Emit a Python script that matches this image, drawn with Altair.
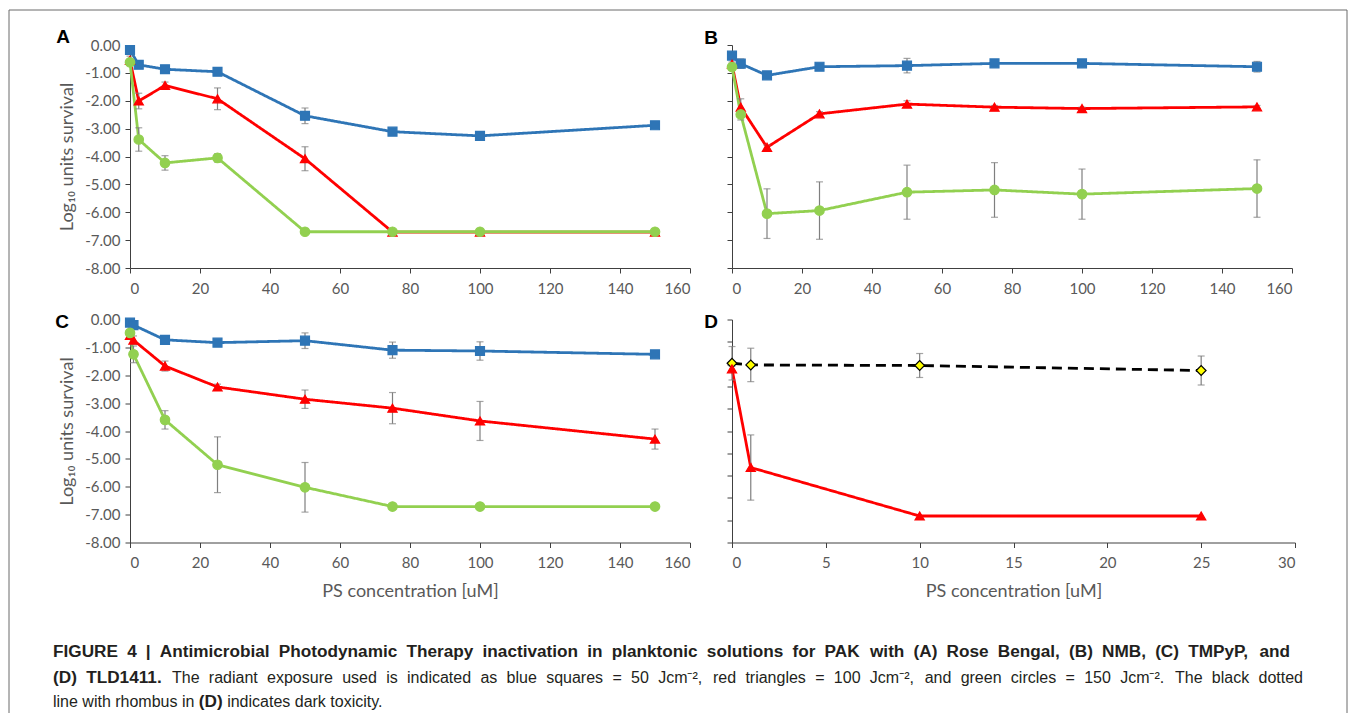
import altair as alt
import pandas as pd

# ---------------- data ----------------
X_AB = [0, 2.5, 10, 25, 50, 75, 100, 150]
X_C = [0, 1, 10, 25, 50, 75, 100, 150]
X_D = [0, 1, 10, 25]

A_BLUE = [-0.18, -0.71, -0.87, -0.96, -2.54, -3.11, -3.26, -2.88]
A_BLUE_ERR = [0.10, 0.08, 0.05, 0.06, 0.28, 0.05, 0.08, 0.05]
A_RED = [-0.55, -2.01, -1.45, -1.93, -4.08, -6.71, -6.71, -6.71]
A_RED_ERR = [0.15, 0.28, 0.12, 0.39, 0.43, 0.0, 0.0, 0.0]
A_GREEN = [-0.62, -3.39, -4.23, -4.05, -6.70, -6.70, -6.70, -6.70]
A_GREEN_ERR = [0.10, 0.42, 0.26, 0.15, 0.0, 0.0, 0.0, 0.0]

B_BLUE = [-0.38, -0.67, -1.09, -0.78, -0.74, -0.66, -0.66, -0.78]
B_BLUE_ERR = [0.08, 0.17, 0.05, 0.05, 0.26, 0.05, 0.08, 0.19]
B_RED = [-0.69, -2.23, -3.67, -2.47, -2.12, -2.23, -2.28, -2.22]
B_RED_ERR = [0.08, 0.30, 0.08, 0.08, 0.12, 0.06, 0.05, 0.05]
B_GREEN = [-0.79, -2.49, -6.05, -5.94, -5.28, -5.20, -5.35, -5.15]
B_GREEN_ERR = [0.08, 0.20, 0.89, 1.03, 0.97, 0.98, 0.90, 1.03]

C_BLUE = [-0.11, -0.20, -0.73, -0.83, -0.76, -1.10, -1.13, -1.25]
C_BLUE_ERR = [0.05, 0.10, 0.10, 0.05, 0.28, 0.29, 0.33, 0.05]
C_RED = [-0.57, -0.74, -1.67, -2.42, -2.86, -3.18, -3.64, -4.29]
C_RED_ERR = [0.10, 0.15, 0.18, 0.10, 0.33, 0.56, 0.70, 0.36]
C_GREEN = [-0.48, -1.25, -3.60, -5.21, -6.02, -6.71, -6.71, -6.71]
C_GREEN_ERR = [0.10, 0.30, 0.33, 1.00, 0.89, 0.0, 0.0, 0.0]

D_DARK = [-1.57, -1.63, -1.65, -1.83]
D_DARK_ERR = [0.60, 0.60, 0.43, 0.52]
D_RED = [-1.77, -5.31, -7.05, -7.05]
D_RED_ERR = [0.10, 1.17, 0.0, 0.0]

SERIES = ["50 Jcm-2", "100 Jcm-2", "150 Jcm-2", "Dark toxicity"]
Y_TICKS = [0, -1, -2, -3, -4, -5, -6, -7, -8]
Y_TICKS_D = [0, -0.8, -1.6, -2.4, -3.2, -4.0, -4.8, -5.6, -6.4, -7.2, -8.0]
PANEL_LETTERS = ["A", "B", "C", "D"]
X_TITLE = "PS concentration [uM]"
Y_TITLE = "Log\u2081\u2080 units survival"

# caption: (text, bold) runs per line
CAPTION_LINE1 = [("FIGURE 4 | Antimicrobial Photodynamic Therapy inactivation in planktonic "
                  "solutions for PAK with (A) Rose Bengal, (B) NMB, (C) TMPyP, and", True)]
CAPTION_LINE2 = [("(D) TLD1411.", True),
                 ("The radiant exposure used is indicated as blue squares = 50 Jcm\u207b\u00b2, "
                  "red triangles = 100 Jcm\u207b\u00b2, and green circles = 150 Jcm\u207b\u00b2. "
                  "The black dotted", False)]
CAPTION_LINE3 = [("line with rhombus in", False), ("(D)", True), ("indicates dark toxicity.", False)]

# ---------------- styles ----------------
LINE_COLORS = ["#2E75B6", "#FF0000", "#92D050", "#000000"]
FILL_COLORS = ["#2E75B6", "#FF0000", "#92D050", "#FFFF00"]
EDGE_COLORS = ["#2E75B6", "#FF0000", "#92D050", "#000000"]
SHAPES = ["square", "triangle-up", "circle", "diamond"]
SIZES = [80, 95, 50, 110]
DASHES = [[1, 0], [1, 0], [1, 0], [10, 6]]
FONT = "Lato"
CAPFONT = "Liberation Sans"
BOLD_SIZE = 17.2
REG_SIZE = 16.0
AXC = "#404040"
TXT = "#595959"
ERRC = "#7F7F7F"
CAPC = "#231F20"
PLOT_H = 223

# Arial / Liberation Sans advance widths (1/1000 em) for caption layout
REG_W, BOLD_W = {}, {}
for chars, w in [("ijl", 222), (" ft.,:;I!", 278), ("r()-[]\u00b2", 333), ("\u207b", 400),
                 ("cksvxyzJ", 500), ("abdeghnopquL0123456789", 556), ("=+", 584), ("FTZ", 611),
                 ("ABEKPSVXY&", 667), ("CDHNRUw", 722), ("GOQ", 778), ("mM", 833), ("W", 944), ("|", 260)]:
    for ch in chars:
        REG_W[ch] = w
for chars, w in [(" ijl.,:;I", 278), ("ft()-!\u00b2", 333), ("r", 389), ("z", 500),
                 ("acekvsxyJ0123456789", 556), ("bdghnopquLFTZ", 611), ("EPSVXY", 667),
                 ("ABCDHKNRU", 722), ("GOQw", 778), ("M", 833), ("m", 889), ("W", 944), ("|", 280)]:
    for ch in chars:
        BOLD_W[ch] = w


def text_w(word, bold):
    tab, size = (BOLD_W, BOLD_SIZE) if bold else (REG_W, REG_SIZE)
    return sum(tab.get(ch, 556) for ch in word) * size / 1000.0


def layout_line(runs, x0, y, right=None):
    words = [(w, b) for txt, b in runs for w in txt.split(" ")]
    widths = [text_w(w, b) for w, b in words]
    if right is None:
        gap = 0.278 * REG_SIZE
    else:
        gap = (right - x0 - sum(widths)) / (len(words) - 1)
    rows, x = [], x0
    for (w, b), wd in zip(words, widths):
        rows.append(dict(word=w, bold=b, px=x, py=y))
        x += wd + gap
    return rows


def build_df(x, groups):
    rows = []
    for name, vals, errs in groups:
        for xi, v, e in zip(x, vals, errs):
            rows.append(dict(x=xi, y=v, err=e, lo=v - e, hi=v + e, series=name))
    return pd.DataFrame(rows)


def panel(df, xmax, xstep, yticks, show_ylabels, xtitle, ytitle, letter, ldx, ldy, width, extra=()):
    xs = alt.Scale(domain=[0, xmax], nice=False)
    ys = alt.Scale(domain=[-8, 0], nice=False)
    xa = alt.Axis(values=list(range(0, xmax + 1, xstep)), grid=False, tickSize=5,
                  domainColor=AXC, tickColor=AXC, labelColor=TXT, labelFont=FONT,
                  labelFontSize=15, labelPadding=8, titleFont=FONT, titleFontSize=18,
                  titleColor=TXT, titleFontWeight="normal", titlePadding=12)
    ya = alt.Axis(values=yticks, grid=False, tickSize=5, labels=show_ylabels,
                  labelExpr="replace(format(datum.value, '.2f'), '\u2212', '-')",
                  domainColor=AXC, tickColor=AXC, labelColor=TXT, labelFont=FONT,
                  labelFontSize=15, labelPadding=5, titleFont=FONT, titleFontSize=18,
                  titleColor=TXT, titleFontWeight="normal", titlePadding=8)
    X = alt.X("x:Q", scale=xs, axis=xa, title=xtitle)
    Y = alt.Y("y:Q", scale=ys, axis=ya, title=ytitle)

    line = alt.Chart(df).mark_line(strokeWidth=2.8).encode(
        x=X, y=Y,
        color=alt.Color("series:N", scale=alt.Scale(domain=SERIES, range=LINE_COLORS), legend=None),
        strokeDash=alt.StrokeDash("series:N", scale=alt.Scale(domain=SERIES, range=DASHES), legend=None),
    )
    edf = df[df["err"] > 0]
    rule = alt.Chart(edf).mark_rule(color=ERRC, strokeWidth=1.2).encode(
        x=X, y=alt.Y("lo:Q", scale=ys, axis=ya, title=ytitle), y2="hi:Q")
    cap_lo = alt.Chart(edf).mark_tick(orient="horizontal", size=7, thickness=1.2, color=ERRC).encode(
        x=X, y=alt.Y("lo:Q", scale=ys, axis=ya, title=ytitle))
    cap_hi = alt.Chart(edf).mark_tick(orient="horizontal", size=7, thickness=1.2, color=ERRC).encode(
        x=X, y=alt.Y("hi:Q", scale=ys, axis=ya, title=ytitle))
    pts = alt.Chart(df).mark_point(filled=True, opacity=1, strokeWidth=1.2).encode(
        x=X, y=Y,
        shape=alt.Shape("series:N", scale=alt.Scale(domain=SERIES, range=SHAPES), legend=None),
        fill=alt.Fill("series:N", scale=alt.Scale(domain=SERIES, range=FILL_COLORS), legend=None),
        stroke=alt.Stroke("series:N", scale=alt.Scale(domain=SERIES, range=EDGE_COLORS), legend=None),
        size=alt.Size("series:N", scale=alt.Scale(domain=SERIES, range=SIZES), legend=None),
    )
    lab = alt.Chart(pd.DataFrame({"t": [letter]})).mark_text(
        font="Liberation Sans", fontSize=19, fontWeight="bold", color="#000000",
        align="center", baseline="middle").encode(text="t:N", x=alt.value(ldx), y=alt.value(ldy))
    return alt.layer(line, rule, cap_lo, cap_hi, pts, lab, *extra).properties(width=width, height=PLOT_H)


dfA = build_df(X_AB, [(SERIES[0], A_BLUE, A_BLUE_ERR), (SERIES[1], A_RED, A_RED_ERR), (SERIES[2], A_GREEN, A_GREEN_ERR)])
dfB = build_df(X_AB, [(SERIES[0], B_BLUE, B_BLUE_ERR), (SERIES[1], B_RED, B_RED_ERR), (SERIES[2], B_GREEN, B_GREEN_ERR)])
dfC = build_df(X_C, [(SERIES[0], C_BLUE, C_BLUE_ERR), (SERIES[1], C_RED, C_RED_ERR), (SERIES[2], C_GREEN, C_GREEN_ERR)])
dfD = build_df(X_D, [(SERIES[3], D_DARK, D_DARK_ERR), (SERIES[1], D_RED, D_RED_ERR)])

# ---------------- caption and frame (pixel offsets relative to panel C's plot origin) ----------------
OX, OY = 129, 318.5
one = pd.DataFrame({"k": [0]})
frame_c = "#6b6b6b"
FT, FB, FL, FR = 9 - OY, 712 - OY, 8 - OX, 1346 - OX
frame = [
    alt.Chart(one).mark_rule(color=frame_c, strokeWidth=1).encode(
        x=alt.value(FL), x2=alt.value(FR), y=alt.value(FT)),
    alt.Chart(one).mark_rule(color=frame_c, strokeWidth=1).encode(
        x=alt.value(FL), y=alt.value(FT), y2=alt.value(FB)),
    alt.Chart(one).mark_rule(color=frame_c, strokeWidth=1).encode(
        x=alt.value(FR), y=alt.value(FT), y2=alt.value(FB)),
]
cap_rows = (layout_line(CAPTION_LINE1, 52 - OX, 650.5 - OY, right=1289 - OX)
            + layout_line(CAPTION_LINE2, 52 - OX, 676.5 - OY, right=1302 - OX)
            + layout_line(CAPTION_LINE3, 52 - OX, 700.5 - OY))
cap_df = pd.DataFrame(cap_rows)
caption = []
for is_bold in (True, False):
    caption.append(
        alt.Chart(cap_df[cap_df["bold"] == is_bold]).mark_text(
            font=CAPFONT, fontSize=BOLD_SIZE if is_bold else REG_SIZE,
            fontWeight="bold" if is_bold else "normal",
            color=CAPC, align="left", baseline="middle").encode(
            x=alt.X("px:Q", scale=None, axis=None),
            y=alt.Y("py:Q", scale=None, axis=None),
            text="word:N")
    )

pA = panel(dfA, 160, 20, Y_TICKS, True, None, Y_TITLE, PANEL_LETTERS[0], -67, -8, 560)
pB = panel(dfB, 160, 20, Y_TICKS, False, None, None, PANEL_LETTERS[1], -21, -7, 560)
pC = panel(dfC, 160, 20, Y_TICKS, True, X_TITLE, Y_TITLE, PANEL_LETTERS[2], -68, 2, 560,
           extra=frame + caption)
pD = panel(dfD, 30, 5, Y_TICKS_D, False, X_TITLE, None, PANEL_LETTERS[3], -21, 2, 563)

chart = alt.concat(pA, pB, pC, pD, columns=2, bounds="flush",
                   spacing=alt.RowColnumber(row=51.5, column=42)).properties(
    padding={"left": 8, "top": 9, "right": 5, "bottom": 0}
).configure_view(stroke=None)

chart.save("out.html", embed_options={"renderer": "svg", "actions": False})
